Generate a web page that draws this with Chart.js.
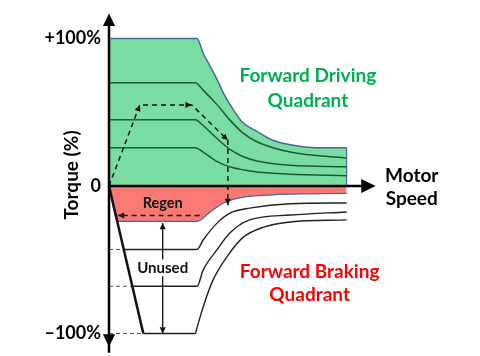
<!DOCTYPE html>
<html><head><meta charset="utf-8">
<script src="https://cdn.jsdelivr.net/npm/chart.js@4"></script>
<style>html,body{margin:0;padding:0;background:#fff}canvas{display:block}</style>
</head><body>
<canvas id="c" width="480" height="356"></canvas>
<script>
// Speed in % of base speed, torque in %
const envSpeed   = [0,100,107,115,123,130,141,152,168,186,206,236,270];
const envTorque  = [100,100,90,81,72,63,52,43,37,31,28,26,26];
const lineSpeed  = [0,98,107,123,137,152,168,206,270];
const line1Torque= [70,70,65,55,45,36,30,23,19];
const line2Torque= [45,45,41,32,25,20,17,14,13];
const line3Torque= [26,26,23,16.5,13,11,9.5,8,7];
const regenSpeed = [0,10,100,115,130,149,186,230,270];
const regenTorque= [0,-24,-24,-17.6,-11.5,-8,-6,-5.3,-5];
const brkSpeed   = [100,107,123,137,160,206,270];
const brkATorque = [-43,-36.6,-25,-18.5,-15,-12,-11.5];
const brkBTorque = [-68,-57,-43,-32,-23,-19.7,-17.6];
const brkCSpeed  = [100,107,118,134,152,175,206,270];
const brkCTorque = [-96,-82,-64,-48,-35,-28,-24.4,-23];
const brkLevels  = [-43,-68,-100];
const diagEnd    = {s:39, t:-100};
const drivePathS = [0,35,94,135,135];
const drivePathT = [0,55,55,31,-13];
const regenPathS = [103,10];
const regenPathT = [-20,-20];
const unusedS = [61,61];
const unusedT = [-25,-100];
const yTicks = [{v:100,label:'+100%'},{v:0,label:'0'},{v:-100,label:'–100%'}];

const pts = (xs,ys)=>xs.map((x,i)=>({x:x,y:ys[i]}));
const flatStart = lv => diagEnd.s*lv/diagEnd.t;

const GREEN_FILL='rgb(121,221,164)', EDGE='#48699a', DKGREEN='#1e5a38', RED_FILL='rgb(249,122,117)';

const datasets = [
  {data:pts(envSpeed,envTorque), fill:'origin', backgroundColor:GREEN_FILL, borderColor:EDGE, borderWidth:1.5, cubicInterpolationMode:'monotone'},
  {data:[{x:envSpeed[envSpeed.length-1],y:envTorque[envTorque.length-1]},{x:envSpeed[envSpeed.length-1],y:0}], borderColor:EDGE, borderWidth:1.2},
  {data:pts(lineSpeed,line1Torque), borderColor:DKGREEN, borderWidth:1.5, cubicInterpolationMode:'monotone'},
  {data:pts(lineSpeed,line2Torque), borderColor:DKGREEN, borderWidth:1.5, cubicInterpolationMode:'monotone'},
  {data:pts(lineSpeed,line3Torque), borderColor:DKGREEN, borderWidth:1.5, cubicInterpolationMode:'monotone'},
  {data:pts(regenSpeed,regenTorque), fill:'origin', backgroundColor:RED_FILL, borderColor:EDGE, borderWidth:1.2, cubicInterpolationMode:'monotone'},
  {data:[{x:flatStart(brkLevels[0]),y:brkLevels[0]}].concat(pts(brkSpeed,brkATorque)), borderColor:'#222', borderWidth:1.4, cubicInterpolationMode:'monotone'},
  {data:[{x:flatStart(brkLevels[1]),y:brkLevels[1]}].concat(pts(brkSpeed,brkBTorque)), borderColor:'#222', borderWidth:1.4, cubicInterpolationMode:'monotone'},
  {data:[{x:diagEnd.s,y:brkLevels[2]},{x:brkCSpeed[0]-2,y:brkLevels[2]}].concat(pts(brkCSpeed,brkCTorque)), borderColor:'#222', borderWidth:1.4, cubicInterpolationMode:'monotone'},
];
brkLevels.forEach(lv=>datasets.push({data:[{x:0,y:lv},{x:flatStart(lv),y:lv}], borderColor:'#555', borderWidth:1, borderDash:[4,3]}));
datasets.push({data:[{x:0,y:0},{x:diagEnd.s,y:diagEnd.t}], borderColor:'#111', borderWidth:2.5});
datasets.push({data:pts(drivePathS,drivePathT), borderColor:'#111', borderWidth:1.5, borderDash:[5,4], arrows:[1,2,3,4]});
datasets.push({data:pts(regenPathS,regenPathT), borderColor:'#111', borderWidth:1.5, borderDash:[5,4], arrows:[1]});
datasets.push({data:pts(unusedS,unusedT), borderColor:'#111', borderWidth:1.3, arrows:[0,1]});
datasets.forEach((d,i)=>{d.pointRadius=0; d.tension=d.tension||0; d.order=-i; if(d.fill===undefined) d.fill=false;});

const labels = [
  {text:'Forward Driving', s:226, t:75, color:'#00B050', size:19},
  {text:'Quadrant', s:226, t:58, color:'#00B050', size:19},
  {text:'Forward Braking', s:228, t:-58, color:'#FF0000', size:19},
  {text:'Quadrant', s:228, t:-74, color:'#FF0000', size:19},
  {text:'Motor', s:344, t:7, color:'#000', size:19},
  {text:'Speed', s:344, t:-8.5, color:'#000', size:19},
  {text:'Regen', s:61, t:-11.5, color:'#111', size:14.5},
  {text:'Unused', s:61, t:-55.5, color:'#111', size:15, bg:'#fff'},
];
const axis = {yTop:117, yBottom:-109, xEnd:303};

function arrowHead(ctx,x1,y1,x2,y2,size){
  const a=Math.atan2(y2-y1,x2-x1);
  ctx.beginPath();
  ctx.moveTo(x2,y2);
  ctx.lineTo(x2-size*Math.cos(a-0.45),y2-size*Math.sin(a-0.45));
  ctx.lineTo(x2-size*Math.cos(a+0.45),y2-size*Math.sin(a+0.45));
  ctx.closePath(); ctx.fill();
}

const deco = {
  id:'deco',
  afterDatasetsDraw(chart){
    const ctx=chart.ctx, xs=chart.scales.x, ys=chart.scales.y;
    ctx.save();
    ctx.fillStyle='#111';
    chart.data.datasets.forEach((d,i)=>{
      if(!d.arrows) return;
      const m=chart.getDatasetMeta(i).data;
      d.arrows.forEach(k=>{
        const j = k===0?1:k-1;
        arrowHead(ctx,m[j].x,m[j].y,m[k].x,m[k].y,7);
      });
    });
    const x0=xs.getPixelForValue(0), y0=ys.getPixelForValue(0);
    const yt=ys.getPixelForValue(axis.yTop), yb=ys.getPixelForValue(axis.yBottom), xe=xs.getPixelForValue(axis.xEnd);
    ctx.strokeStyle='#000'; ctx.fillStyle='#000'; ctx.lineWidth=2.5;
    ctx.beginPath(); ctx.moveTo(x0,yb+6); ctx.lineTo(x0,yt+6); ctx.stroke();
    ctx.beginPath(); ctx.moveTo(x0,y0); ctx.lineTo(xe-8,y0); ctx.stroke();
    arrowHead(ctx,x0,yt+20,x0,yt,14);
    arrowHead(ctx,x0,yb-20,x0,yb,14);
    arrowHead(ctx,xe-20,y0,xe,y0,16);
    ctx.font='bold 18px Lato'; ctx.textAlign='right'; ctx.textBaseline='middle';
    yTicks.forEach(t=>ctx.fillText(t.label,x0-8,ys.getPixelForValue(t.v)));
    ctx.save();
    ctx.font='bold 19px Lato';
    ctx.translate(xs.getPixelForValue(-42),ys.getPixelForValue(7.5));
    ctx.rotate(-Math.PI/2); ctx.textAlign='center';
    ctx.fillText('Torque (%)',0,0);
    ctx.restore();
    labels.forEach(l=>{
      ctx.font='bold '+l.size+'px Lato'; ctx.textAlign='center'; ctx.textBaseline='middle';
      const px=xs.getPixelForValue(l.s), py=ys.getPixelForValue(l.t);
      if(l.bg){const w=ctx.measureText(l.text).width; ctx.fillStyle=l.bg; ctx.fillRect(px-w/2-2,py-l.size/2-1,w+4,l.size+2);}
      ctx.fillStyle=l.color; ctx.fillText(l.text,px,py);
    });
    ctx.restore();
  }
};

new Chart(document.getElementById('c'),{
  type:'line',
  data:{datasets:datasets},
  options:{
    responsive:false, animation:false, events:[],
    layout:{padding:0},
    plugins:{legend:{display:false},tooltip:{enabled:false}},
    scales:{
      x:{type:'linear',display:false,min:-109/0.88,max:(480-109)/0.88},
      y:{type:'linear',display:false,min:-170/1.475,max:186/1.475}
    }
  },
  plugins:[deco]
});
</script>
</body></html>
